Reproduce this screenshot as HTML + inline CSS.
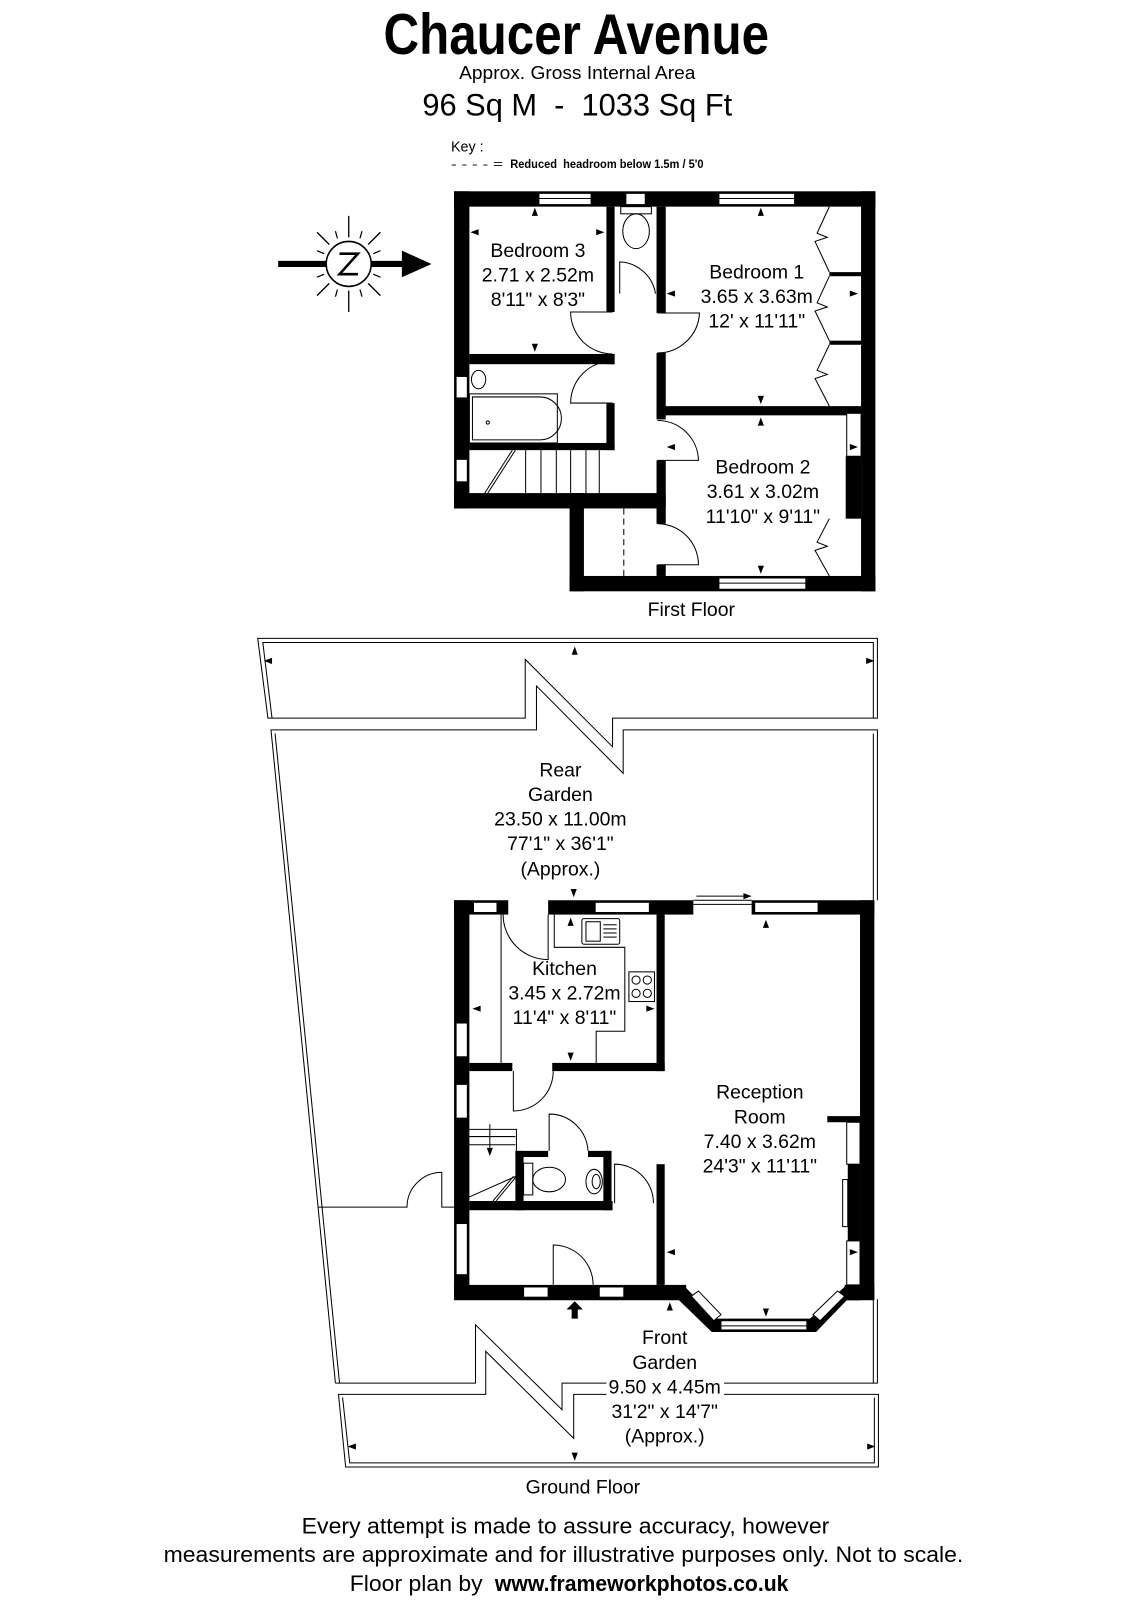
<!DOCTYPE html>
<html><head><meta charset="utf-8"><style>
html,body{margin:0;padding:0;background:#fff;}
svg{display:block;}
text{font-family:"Liberation Sans",Arial,sans-serif;fill:#000;}
</style></head><body>
<svg width="1130" height="1600" viewBox="0 0 1105 1564" preserveAspectRatio="none" xmlns="http://www.w3.org/2000/svg">
<rect width="1105" height="1564" fill="#fff"/>
<!-- header -->
<text x="375" y="53" font-size="56" font-weight="bold" textLength="377" lengthAdjust="spacingAndGlyphs">Chaucer Avenue</text>
<text x="449" y="77" font-size="18" textLength="231" lengthAdjust="spacingAndGlyphs">Approx. Gross Internal Area</text>
<text x="413" y="113" font-size="31" textLength="303" lengthAdjust="spacingAndGlyphs">96 Sq M&#160;&#160;-&#160;&#160;1033 Sq Ft</text>
<text x="441" y="148" font-size="14">Key :</text>
<text x="441" y="164" font-size="12" textLength="51" lengthAdjust="spacingAndGlyphs">- - - - =</text>
<text x="499" y="164" font-size="12" font-weight="bold" textLength="189" lengthAdjust="spacingAndGlyphs">Reduced&#160; headroom below 1.5m / 5'0</text>

<!-- compass -->
<g stroke="#000" fill="none">
<line x1="272" y1="258" x2="395" y2="258" stroke-width="6"/>
<circle cx="341" cy="258" r="22" fill="#fff" stroke-width="1.5"/>
<line x1="341" y1="211" x2="341" y2="232" stroke-width="1.3"/>
<line x1="341" y1="284" x2="341" y2="305" stroke-width="1.3"/>
<line x1="322" y1="239" x2="310" y2="227" stroke-width="1.3"/>
<line x1="360" y1="239" x2="372" y2="227" stroke-width="1.3"/>
<line x1="322" y1="277" x2="310" y2="289" stroke-width="1.3"/>
<line x1="360" y1="277" x2="372" y2="289" stroke-width="1.3"/>
<line x1="330" y1="233" x2="328" y2="226" stroke-width="1.2"/>
<line x1="352" y1="233" x2="354" y2="226" stroke-width="1.2"/>
<line x1="330" y1="283" x2="328" y2="290" stroke-width="1.2"/>
<line x1="352" y1="283" x2="354" y2="290" stroke-width="1.2"/>
<line x1="317" y1="248" x2="310" y2="245" stroke-width="1.2"/>
<line x1="317" y1="268" x2="310" y2="271" stroke-width="1.2"/>
<line x1="365" y1="248" x2="372" y2="245" stroke-width="1.2"/>
<line x1="365" y1="268" x2="372" y2="271" stroke-width="1.2"/>
<path d="M332 248 L350 248 L332 268 L350 268" stroke-width="2.5"/>
</g>
<polygon points="393,245 422,258 393,271" fill="#000"/>

<!-- ============ FIRST FLOOR ============ -->
<g fill="#000">
<rect x="444" y="187" width="412" height="15"/>
<rect x="444" y="187" width="15" height="310"/>
<rect x="842" y="187" width="14" height="391"/>
<rect x="444" y="482" width="207" height="15"/>
<rect x="557" y="482" width="14" height="96"/>
<rect x="557" y="563" width="299" height="15"/>
<rect x="827" y="446" width="15" height="61"/>
<rect x="593" y="202" width="8" height="103"/>
<rect x="593" y="346" width="8" height="10"/>
<rect x="593" y="394" width="8" height="46"/>
<rect x="459" y="346" width="142" height="10"/>
<rect x="459" y="433" width="142" height="7"/>
<rect x="642" y="202" width="9" height="104"/>
<rect x="642" y="345" width="9" height="65"/>
<rect x="642" y="450" width="9" height="62"/>
<rect x="642" y="552" width="9" height="11"/>
<rect x="642" y="397" width="200" height="9"/>
<rect x="811" y="266" width="31" height="4"/>
<rect x="811" y="333" width="31" height="4"/>
</g>
<g fill="#fff" stroke="#000" stroke-width="1">
<rect x="527" y="189" width="51" height="11"/>
<rect x="612" y="189" width="19" height="11"/>
<rect x="703" y="189" width="74" height="11"/>
<rect x="446" y="368" width="11" height="21"/>
<rect x="446" y="449" width="11" height="22"/>
<rect x="703" y="565" width="85" height="11"/>
<rect x="828" y="404" width="14" height="42"/>
</g>
<g stroke="#000" stroke-width="1" fill="none">
<line x1="527" y1="194" x2="578" y2="194"/><line x1="703" y1="194" x2="777" y2="194"/><line x1="703" y1="570" x2="788" y2="570"/>
<rect x="607" y="202" width="30" height="7"/>
<ellipse cx="622" cy="226" rx="13" ry="17"/>
<path d="M599 305 L558 305 A41 41 0 0 0 599 346"/>
<path d="M599 394 L558 394 A41 41 0 0 1 599 353"/>
<path d="M606 287 L606 256 A37 37 0 0 1 641 287"/>
<path d="M643 306 L684 306 A41 41 0 0 1 643 345"/>
<path d="M643 411 A40 40 0 0 1 683 450 L643 450"/>
<path d="M643 512 A40 40 0 0 1 683 552 L643 552"/>
<path d="M462 388 L528 388 A21 21 0 0 1 528 430 L462 430 Z"/>
<rect x="459" y="385" width="86" height="48"/>
<circle cx="477" cy="413" r="1.6"/>
<ellipse cx="468" cy="371" rx="7" ry="9"/>
<line x1="514" y1="440" x2="514" y2="482"/><line x1="529" y1="440" x2="529" y2="482"/><line x1="544" y1="440" x2="544" y2="482"/><line x1="558" y1="440" x2="558" y2="482"/><line x1="573" y1="440" x2="573" y2="482"/><line x1="586" y1="440" x2="586" y2="482"/>
<line x1="501" y1="440" x2="474" y2="482"/><line x1="504" y1="440" x2="477" y2="482"/>
<line x1="610" y1="497" x2="610" y2="563" stroke-dasharray="6,4"/>
<polyline points="811,202 799,228 809,232 797,236 811,266"/>
<polyline points="811,270 799,296 809,300 797,304 811,333"/>
<polyline points="811,337 799,362 809,366 797,370 811,397"/>
<polyline points="811,507 799,530 809,534 797,538 811,563"/>
</g>
<g fill="#000">
<polygon points="523,203 520,211 526,211"/>
<polygon points="523,344 520,336 526,336"/>
<polygon points="460,227 468,224 468,230"/>
<polygon points="591,227 583,224 583,230"/>
<polygon points="744,203 741,211 747,211"/>
<polygon points="744,395 741,387 747,387"/>
<polygon points="652,287 660,284 660,290"/>
<polygon points="839,287 831,284 831,290"/>
<polygon points="744,408 741,416 747,416"/>
<polygon points="744,561 741,553 747,553"/>
<polygon points="652,437 660,434 660,440"/>
<polygon points="839,437 831,434 831,440"/>
</g>
<g font-size="19" text-anchor="middle">
<text x="526" y="251">Bedroom 3</text><text x="526" y="275">2.71 x 2.52m</text><text x="526" y="299">8'11" x 8'3"</text>
<text x="740" y="272">Bedroom 1</text><text x="740" y="296">3.65 x 3.63m</text><text x="740" y="320">12' x 11'11"</text>
<text x="746" y="463">Bedroom 2</text><text x="746" y="487">3.61 x 3.02m</text><text x="746" y="511">11'10" x 9'11"</text>
<text x="676" y="602">First Floor</text>
</g>

<!-- ============ GARDENS ============ -->
<g stroke="#000" stroke-width="1" fill="none">
<path d="M262 702 L252 624 L858 624 L858 702 L599 702 L599 730 L513.6 644.5 L513.6 702 Z"/>
<path d="M266 702 L257 628 L854 628 L854 702"/>
<path d="M328 1352 L265 713.5 L524.6 713.5 L524.6 670.5 L609.4 756 L609.4 713.5 L858 713.5 L858 880"/>
<path d="M332 1352 L269 717"/>
<line x1="854" y1="717" x2="854" y2="880"/>
<path d="M858 1270 L858 1352 L708 1352 M593 1352 L549.6 1352 L549.6 1378 L465 1295 L465 1352 L328 1352"/>
<line x1="854" y1="1270" x2="854" y2="1352"/>
<path d="M593 1363 L561 1363 L561 1406 L475 1321 L475 1363 L331 1363 L338 1434 L859 1434 L859 1363 L708 1363"/>
<path d="M335 1366 L342 1430 L855 1430 L855 1366"/>
<path d="M311 1180 L398 1180 A34 34 0 0 1 432 1146 L432 1180 L444 1180"/>
</g>
<g fill="#000">
<polygon points="562,632 559,640 565,640"/>
<polygon points="258,646 266,643 266,649"/>
<polygon points="855,646 847,643 847,649"/>
<polygon points="562,1428 559,1420 565,1420"/>
<polygon points="340,1414 348,1411 348,1417"/>
<polygon points="856,1414 848,1411 848,1417"/>
</g>

<!-- ============ GROUND FLOOR ============ -->
<g fill="#000">
<rect x="444" y="880" width="53" height="14"/>
<rect x="536" y="880" width="142" height="14"/>
<rect x="735" y="880" width="120" height="14"/>
<rect x="444" y="880" width="15" height="390"/>
<rect x="841" y="880" width="14" height="390"/>
<rect x="444" y="1256" width="227" height="15"/>
<rect x="826" y="1256" width="29" height="15"/>
<rect x="642" y="894" width="8" height="153"/>
<rect x="459" y="1039" width="42" height="8"/>
<rect x="540" y="1039" width="110" height="8"/>
<rect x="642" y="1138" width="8" height="118"/>
<rect x="504" y="1125" width="8" height="58"/>
<rect x="504" y="1125" width="32" height="6"/>
<rect x="575" y="1125" width="23" height="6"/>
<rect x="590" y="1125" width="8" height="58"/>
<rect x="459" y="1174" width="140" height="9"/>
<rect x="809" y="1091" width="32" height="6"/>
<rect x="829" y="1138" width="12" height="75"/>
<path d="M668 1256 L700 1289 L792 1289 L828 1256 L841 1256 L841 1271 L828 1271 L798 1302 L696 1302 L664 1271 Z"/>
</g>
<g fill="#fff" stroke="#000" stroke-width="1">
<rect x="463" y="882" width="23" height="10"/>
<rect x="582" y="882" width="53" height="10"/>
<rect x="738" y="882" width="62" height="10"/>
<rect x="446" y="1000" width="11" height="33"/>
<rect x="446" y="1060" width="11" height="33"/>
<rect x="446" y="1196" width="11" height="50"/>
<rect x="512" y="1258" width="24" height="10"/>
<rect x="586" y="1258" width="24" height="10"/>
<rect x="828" y="1097" width="13" height="41"/>
<rect x="828" y="1213" width="13" height="43"/>
<rect x="824" y="1153" width="5" height="46"/>
<rect x="705" y="1291" width="84" height="9"/>
<polygon points="676,1267 683,1262 705,1285 698,1291"/>
<polygon points="819,1262 826,1267 802,1291 795,1285"/>
</g>
<g stroke="#000" stroke-width="1" fill="none">
<line x1="705" y1="1296" x2="789" y2="1296"/>
<line x1="678" y1="880" x2="735" y2="880"/><line x1="678" y1="884" x2="735" y2="884"/>
<line x1="681" y1="876" x2="727" y2="876"/>
<line x1="490" y1="894" x2="490" y2="1039"/>
<path d="M542 894 L542 926 L611 926 L611 1008 L583 1008 L583 1039"/>
<rect x="569" y="898" width="37" height="25" rx="2"/>
<rect x="573" y="901" width="14" height="19"/>
<line x1="590" y1="904" x2="603" y2="904"/><line x1="590" y1="908" x2="603" y2="908"/><line x1="590" y1="912" x2="603" y2="912"/><line x1="590" y1="916" x2="603" y2="916"/>
<rect x="615" y="950" width="25" height="29"/>
<circle cx="622" cy="958" r="4"/><circle cx="633" cy="958" r="4"/><circle cx="622" cy="971" r="4"/><circle cx="633" cy="971" r="4"/>
<path d="M492 894 A44 44 0 0 0 536 938 L536 894"/>
<path d="M502 1047 L502 1086 A39 39 0 0 0 541 1047"/>
<path d="M537 1125 L537 1089 A38 38 0 0 1 575 1125"/>
<path d="M601 1176 L601 1138 A38 38 0 0 1 639 1176"/>
<path d="M541 1256 L541 1217 A39 39 0 0 1 580 1256"/>
<path d="M459 1104 L505 1104 L505 1174"/>
<line x1="459" y1="1111" x2="504" y2="1111"/><line x1="459" y1="1119" x2="504" y2="1119"/>
<line x1="504" y1="1150" x2="459" y2="1170"/>
<line x1="505" y1="1150" x2="485" y2="1174"/><line x1="502" y1="1150" x2="482" y2="1174"/>
<line x1="479" y1="1099" x2="479" y2="1126"/>
<rect x="512" y="1137" width="9" height="31"/>
<ellipse cx="537" cy="1153" rx="16" ry="12"/>
<ellipse cx="581" cy="1155" rx="8" ry="12"/>
<ellipse cx="583" cy="1155" rx="4" ry="7"/>
</g>
<g fill="#000">
<polygon points="479,1130 476,1122 482,1122"/>
<polygon points="735,876 727,873 727,879" />
<polygon points="561,877 558,869 564,869"/>
<polygon points="558,897 555,905 561,905"/>
<polygon points="558,1037 555,1029 561,1029"/>
<polygon points="462,986 470,983 470,989"/>
<polygon points="640,986 632,983 632,989"/>
<polygon points="749,899 746,907 752,907"/>
<polygon points="749,1287 746,1279 752,1279"/>
<polygon points="652,1224 660,1221 660,1227"/>
<polygon points="839,1224 831,1221 831,1227"/>
<polygon points="655,1273 652,1281 658,1281"/>
<polygon points="562,1272 554,1280 559,1280 559,1289 565,1289 565,1280 570,1280"/>
</g>
<g font-size="19" text-anchor="middle">
<text x="548" y="759">Rear</text><text x="548" y="783">Garden</text><text x="548" y="807">23.50 x 11.00m</text><text x="548" y="831">77'1" x 36'1"</text><text x="548" y="856">(Approx.)</text>
<text x="552" y="953">Kitchen</text><text x="552" y="977">3.45 x 2.72m</text><text x="552" y="1001">11'4" x 8'11"</text>
<text x="743" y="1074">Reception</text><text x="743" y="1098">Room</text><text x="743" y="1122">7.40 x 3.62m</text><text x="743" y="1146">24'3" x 11'11"</text>
<text x="650" y="1314">Front</text><text x="650" y="1338">Garden</text><text x="650" y="1362">9.50 x 4.45m</text><text x="650" y="1386">31'2" x 14'7"</text><text x="650" y="1410">(Approx.)</text>
<text x="570" y="1460">Ground Floor</text>
</g>
<g font-size="22">
<text x="295" y="1499" textLength="516" lengthAdjust="spacingAndGlyphs">Every attempt is made to assure accuracy, however</text>
<text x="160" y="1527" textLength="782" lengthAdjust="spacingAndGlyphs">measurements are approximate and for illustrative purposes only. Not to scale.</text>
<text x="342" y="1555" textLength="130" lengthAdjust="spacingAndGlyphs">Floor plan by</text>
<text x="484" y="1555" font-weight="bold" textLength="287" lengthAdjust="spacingAndGlyphs">www.frameworkphotos.co.uk</text>
</g>
</svg>
</body></html>
